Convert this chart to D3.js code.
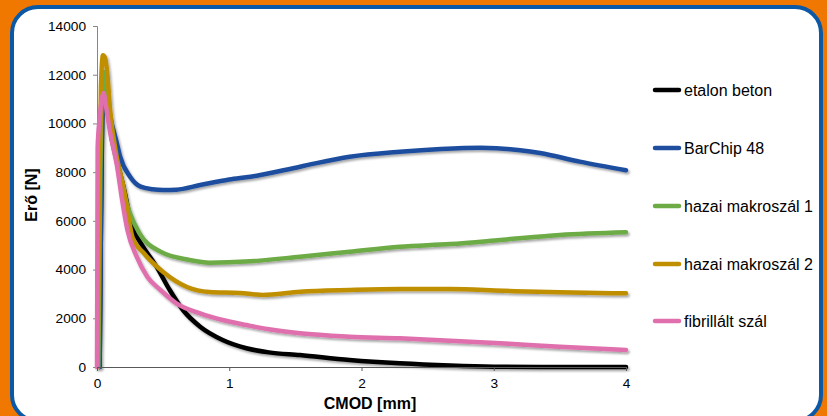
<!DOCTYPE html>
<html>
<head>
<meta charset="utf-8">
<script src="https://cdn.jsdelivr.net/npm/d3@7"></script>
<style>
  html, body { margin: 0; padding: 0; background: #f07800; }
  svg { display: block; font-family: "Liberation Sans", Arial, sans-serif; }
</style>
</head>
<body>
<svg width="827" height="416"></svg>
<script>
// series names and colours
var seriesNames = ["etalon beton", "BarChip 48", "hazai makroszál 1", "hazai makroszál 2", "fibrillált szál"];
var seriesColors = ["#000000", "#1f4e9e", "#6dab46", "#bf8f00", "#df70ad"];

// [CMOD mm, force N]
var etalon = [[0.02,0],[0.03,6000],[0.04,10500],[0.05,12100],[0.07,11500],[0.1,9800],[0.15,8500],[0.2,7400],[0.27,5700],[0.33,5100],[0.45,4120],[0.55,3160],[0.65,2340],[0.78,1655],[0.95,1110],[1.13,770],[1.3,600],[1.535,490],[1.91,290],[2.29,150],[2.67,60],[3.0,15],[3.5,0],[4.0,0]];
var barchip = [[0.02,0],[0.035,9000],[0.05,11900],[0.065,11500],[0.1,10300],[0.15,9200],[0.175,8634],[0.25,7814],[0.33,7403],[0.42,7300],[0.5,7267],[0.6,7280],[0.78,7472],[1.0,7700],[1.16,7814],[1.535,8224],[1.91,8634],[2.29,8840],[2.6,8950],[2.9,9000],[3.2,8900],[3.35,8786],[3.65,8430],[4.0,8080]];
var hazai1 = [[0.01,0],[0.025,8000],[0.04,11500],[0.055,12100],[0.07,11500],[0.1,9800],[0.15,8400],[0.2,7200],[0.25,6300],[0.32,5500],[0.48,4735],[0.7,4393],[0.85,4282],[1.16,4340],[1.535,4528],[1.91,4733],[2.29,4939],[2.67,5050],[3.05,5214],[3.5,5419],[4.0,5530]];
var hazai2 = [[0.005,0],[0.015,6000],[0.03,11500],[0.045,12800],[0.06,12700],[0.075,12200],[0.1,10500],[0.15,8600],[0.2,7400],[0.27,5300],[0.35,4700],[0.5,3900],[0.68,3285],[0.85,3080],[1.08,3040],[1.25,2960],[1.535,3090],[1.91,3160],[2.29,3200],[2.67,3200],[3.07,3130],[3.5,3066],[4.0,3025]];
var fibrillalt = [[0.0,0],[0.005,9000],[0.02,10200],[0.05,11250],[0.065,10800],[0.1,9600],[0.15,8300],[0.19,6856],[0.23,5625],[0.3,4528],[0.38,3707],[0.48,3161],[0.6,2614],[0.78,2204],[0.95,1930],[1.13,1724],[1.3,1548],[1.535,1382],[1.91,1245],[2.29,1177],[2.67,1080],[3.05,972],[3.5,835],[4.0,698]];
var allSeries = [etalon, barchip, hazai1, hazai2, fibrillalt];

var xTicks = [0, 1, 2, 3, 4];
var yTicks = [0, 2000, 4000, 6000, 8000, 10000, 12000, 14000];

var svg = d3.select("svg");

// frame
svg.append("rect")
  .attr("x", 12).attr("y", 7)
  .attr("width", 809).attr("height", 414)
  .attr("rx", 26).attr("ry", 26)
  .attr("fill", "#ffffff")
  .attr("stroke", "#0b58a6")
  .attr("stroke-width", 4);

// shadow filter for the lines
var defs = svg.append("defs");
var f = defs.append("filter").attr("id", "shadow")
  .attr("x", "-5%").attr("y", "-5%").attr("width", "110%").attr("height", "110%");
f.append("feDropShadow")
  .attr("dx", 1.5).attr("dy", 2)
  .attr("stdDeviation", 1.2)
  .attr("flood-color", "#000")
  .attr("flood-opacity", 0.35);

var x = d3.scaleLinear().domain([0, 4]).range([97, 626]);
var y = d3.scaleLinear().domain([0, 14000]).range([367, 26]);

// y axis
var yAxis = svg.append("g")
  .attr("transform", "translate(97,0)")
  .call(d3.axisLeft(y).tickValues(yTicks).tickSize(4).tickPadding(7).tickFormat(d3.format("d")));
yAxis.select(".domain").attr("stroke", "#868686");
yAxis.selectAll(".tick line").attr("stroke", "#868686");
yAxis.selectAll("text").attr("font-size", "13.7px").attr("fill", "#000")
  .attr("font-family", "Liberation Sans, Arial, sans-serif");

// lines
var line = d3.line()
  .x(function(d){ return x(d[0]); })
  .y(function(d){ return y(d[1]); })
  .curve(d3.curveMonotoneX);

var lg = svg.append("g").attr("filter", "url(#shadow)");
for (var i = 0; i < allSeries.length; i++) {
  lg.append("path")
    .attr("d", line(allSeries[i]))
    .attr("fill", "none")
    .attr("stroke", seriesColors[i])
    .attr("stroke-width", 4.5)
    .attr("stroke-linejoin", "round")
    .attr("stroke-linecap", "round");
}

// x axis
var xAxis = svg.append("g")
  .attr("transform", "translate(0,367)")
  .call(d3.axisBottom(x).tickValues(xTicks).tickSize(4).tickPadding(7).tickFormat(d3.format("d")));
xAxis.select(".domain").attr("stroke", "#595959");
xAxis.selectAll(".tick line").attr("stroke", "#595959");
xAxis.selectAll("text").attr("font-size", "13.7px").attr("fill", "#000")
  .attr("font-family", "Liberation Sans, Arial, sans-serif");

// axis titles
svg.append("text")
  .attr("x", 370).attr("y", 409)
  .attr("text-anchor", "middle")
  .attr("font-size", "16px").attr("font-weight", "bold")
  .text("CMOD [mm]");

svg.append("text")
  .attr("transform", "translate(37,195) rotate(-90)")
  .attr("text-anchor", "middle")
  .attr("font-size", "16px").attr("font-weight", "bold")
  .text("Erő [N]");

// legend
var legY = [90, 148, 206, 264, 321];
for (var j = 0; j < seriesNames.length; j++) {
  var g = svg.append("g").attr("transform", "translate(0," + legY[j] + ")");
  g.append("line")
    .attr("x1", 655).attr("x2", 679)
    .attr("stroke", seriesColors[j])
    .attr("stroke-width", 4.5)
    .attr("stroke-linecap", "round");
  g.append("text")
    .attr("x", 684).attr("y", 5.5)
    .attr("font-size", "16px")
    .text(seriesNames[j]);
}
</script>
</body>
</html>
